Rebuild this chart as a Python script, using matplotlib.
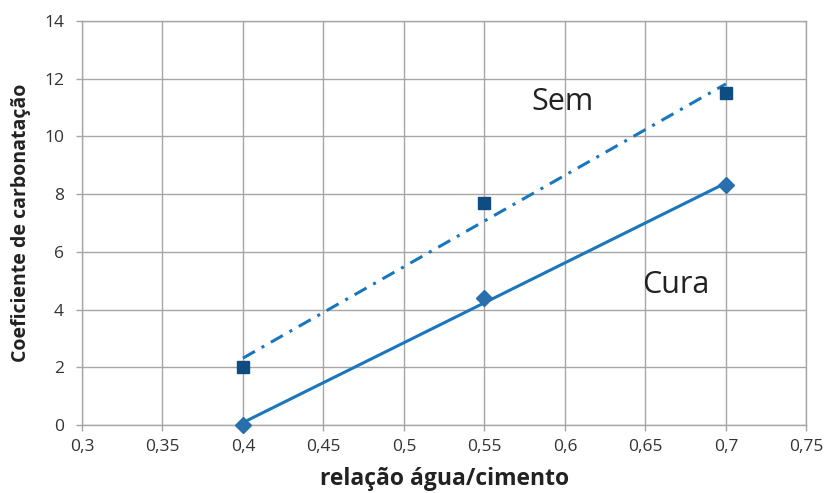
import matplotlib.pyplot as plt
import numpy as np

# Coeficiente de carbonatação em função da relação água/cimento
relacao_ac = [0.40, 0.55, 0.70]
sem_cura = [2.0, 7.7, 11.5]
com_cura = [0.0, 4.4, 8.3]

x_ticks = [0.30, 0.35, 0.40, 0.45, 0.50, 0.55, 0.60, 0.65, 0.70, 0.75]
x_tick_labels = ["0,3", "0,35", "0,4", "0,45", "0,5", "0,55", "0,6", "0,65", "0,7", "0,75"]
y_ticks = [0, 2, 4, 6, 8, 10, 12, 14]

plt.rcParams['font.family'] = ['Open Sans', 'DejaVu Sans']

fig = plt.figure(figsize=(8.25, 4.93), dpi=100)
ax = fig.add_axes([0.0994, 0.138, 0.878, 0.8196])

cor_linha = '#1a76bd'
cor_quadrado = '#0f4c81'
cor_losango = '#2a6fad'
cor_grade = '#a6a6a6'

# Linhas de tendência (regressão linear)
x_fit = np.array([min(relacao_ac), max(relacao_ac)])
a, b = np.polyfit(relacao_ac, sem_cura, 1)
ax.plot(x_fit, a * x_fit + b, color=cor_linha, lw=2.2,
        linestyle=(0, (4.5, 2.5, 1, 2.5)), zorder=3)
a, b = np.polyfit(relacao_ac, com_cura, 1)
ax.plot(x_fit, a * x_fit + b, color=cor_linha, lw=2.2, zorder=3)

# Pontos medidos
ax.plot(relacao_ac, sem_cura, 's', color=cor_quadrado, ms=9, zorder=4, clip_on=False)
ax.plot(relacao_ac, com_cura, 'D', color=cor_losango, ms=8.5, zorder=4, clip_on=False)

ax.text(0.5795, 11.2, "Sem", fontsize=22, color='#222222', va='center', ha='left')
ax.text(0.648, 4.85, "Cura", fontsize=22, color='#222222', va='center', ha='left')

ax.set_xlim(0.30, 0.75)
ax.set_ylim(0, 14)
ax.set_xticks(x_ticks)
ax.set_xticklabels(x_tick_labels)
ax.set_yticks(y_ticks)
ax.tick_params(length=4, width=1, color=cor_grade, labelsize=12.5, labelcolor='#333333')
ax.tick_params(axis='x', pad=6)
ax.tick_params(axis='y', pad=9)
ax.grid(True, color=cor_grade, lw=1)
for s in ax.spines.values():
    s.set_color(cor_grade)
    s.set_linewidth(1)

ax.set_xlabel("relação água/cimento", fontsize=16.5, fontweight='bold', color='#222222', labelpad=9)
ax.set_ylabel("Coeficiente de carbonatação", fontsize=14, fontweight='bold', color='#222222', labelpad=9)

fig.savefig("out.png", dpi=100)
